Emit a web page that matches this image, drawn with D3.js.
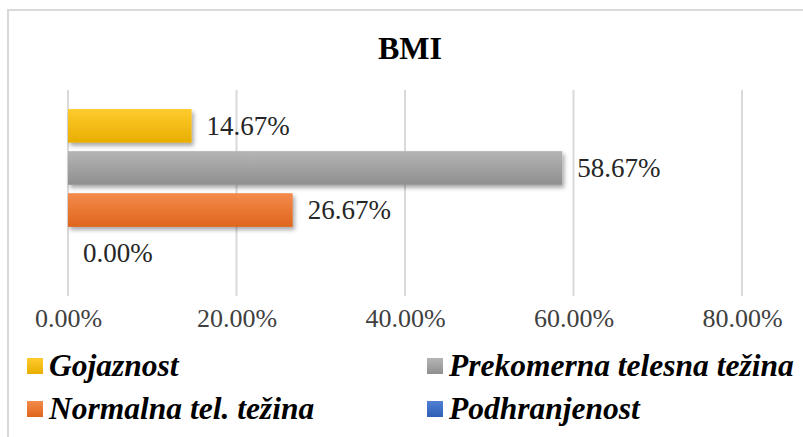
<!DOCTYPE html>
<html><head><meta charset="utf-8">
<script src="https://cdn.jsdelivr.net/npm/d3@7"></script>
<style>
html,body{margin:0;padding:0;background:#fff;}
svg{display:block;}
</style></head>
<body>
<script>
const title = "BMI";
const series = ["Gojaznost", "Prekomerna telesna težina", "Normalna tel. težina", "Podhranjenost"];
const values = [0.1467, 0.5867, 0.2667, 0.0];
const colorsTop = ["#FFCB2E", "#B5B5B5", "#F48B4C", "#4F80D4"];
const colorsBottom = ["#E8AE00", "#8F8F8F", "#DF651C", "#2F5FB5"];
const ticks = [0, 0.2, 0.4, 0.6, 0.8];
const legendOrder = [[0, 1], [2, 3]];

const FONT = "'Liberation Serif'";
const W = 803, H = 437;
const svg = d3.select("body").append("svg").attr("width", W).attr("height", H);
const defs = svg.append("defs");
series.forEach((s, i) => {
  const g = defs.append("linearGradient").attr("id", "grad" + i)
    .attr("x1", 0).attr("y1", 0).attr("x2", 0).attr("y2", 1);
  g.append("stop").attr("offset", "0%").attr("stop-color", colorsTop[i]);
  g.append("stop").attr("offset", "100%").attr("stop-color", colorsBottom[i]);
});
const f = defs.append("filter").attr("id", "shadow").attr("x", "-10%").attr("y", "-30%").attr("width", "130%").attr("height", "180%");
f.append("feDropShadow").attr("dx", 2).attr("dy", 3).attr("stdDeviation", 2).attr("flood-color", "#000").attr("flood-opacity", 0.35);

// chart border
svg.append("rect").attr("x", 8).attr("y", 10).attr("width", W + 10).attr("height", H + 10)
  .attr("fill", "#fff").attr("stroke", "#d9d9d9").attr("stroke-width", 2);

// title
svg.append("text").attr("x", 410).attr("y", 59).attr("text-anchor", "middle")
  .style("font-family", FONT)
  .attr("font-size", 32).attr("font-weight", "bold").attr("fill", "#000").text(title);

const x = d3.scaleLinear().domain([0, 0.8]).range([68, 742]);
const y = d3.scaleBand().domain(series).range([88, 290]).paddingInner(0.2).paddingOuter(0.5);

// gridlines
svg.append("g").selectAll("line").data(ticks).join("line")
  .attr("x1", d => x(d)).attr("x2", d => x(d)).attr("y1", 90).attr("y2", 296)
  .attr("stroke", "#d9d9d9").attr("stroke-width", 2);

// axis labels
const axis = d3.axisBottom(x).tickValues(ticks).tickFormat(d => (d * 100).toFixed(2) + "%").tickSize(0).tickPadding(0);
const ag = svg.append("g").attr("transform", "translate(0,306)").call(axis);
ag.attr("font-family", null);
ag.select(".domain").remove();
ag.selectAll("text").attr("font-size", 26).attr("fill", "#404040")
  .style("font-family", FONT).attr("dy", "0.8em");

// bars
svg.append("g").selectAll("rect").data(values).join("rect")
  .attr("x", x(0)).attr("y", (d, i) => y(series[i]))
  .attr("width", d => Math.max(0, x(d) - x(0))).attr("height", y.bandwidth())
  .attr("fill", (d, i) => "url(#grad" + i + ")")
  .attr("filter", "url(#shadow)");

// data labels
svg.append("g").selectAll("text").data(values).join("text")
  .attr("x", d => x(d) + 15).attr("y", (d, i) => y(series[i]) + y.bandwidth() / 2)
  .attr("dy", "0.35em").attr("font-size", 27).attr("fill", "#262626")
  .style("font-family", FONT)
  .text(d => (d * 100).toFixed(2) + "%");

// legend
const colX = [27, 427], rowY = [358, 401];
legendOrder.forEach((row, r) => row.forEach((si, c) => {
  const g = svg.append("g");
  g.append("rect").attr("x", colX[c]).attr("y", rowY[r]).attr("width", 16).attr("height", 16)
    .attr("fill", "url(#grad" + si + ")");
  g.append("text").attr("x", colX[c] + 22).attr("y", rowY[r] + 18)
    .style("font-family", FONT)
    .attr("font-size", 31.5).attr("font-weight", "bold").attr("font-style", "italic")
    .attr("fill", "#000").text(series[si]);
}));
</script>
</body></html>
